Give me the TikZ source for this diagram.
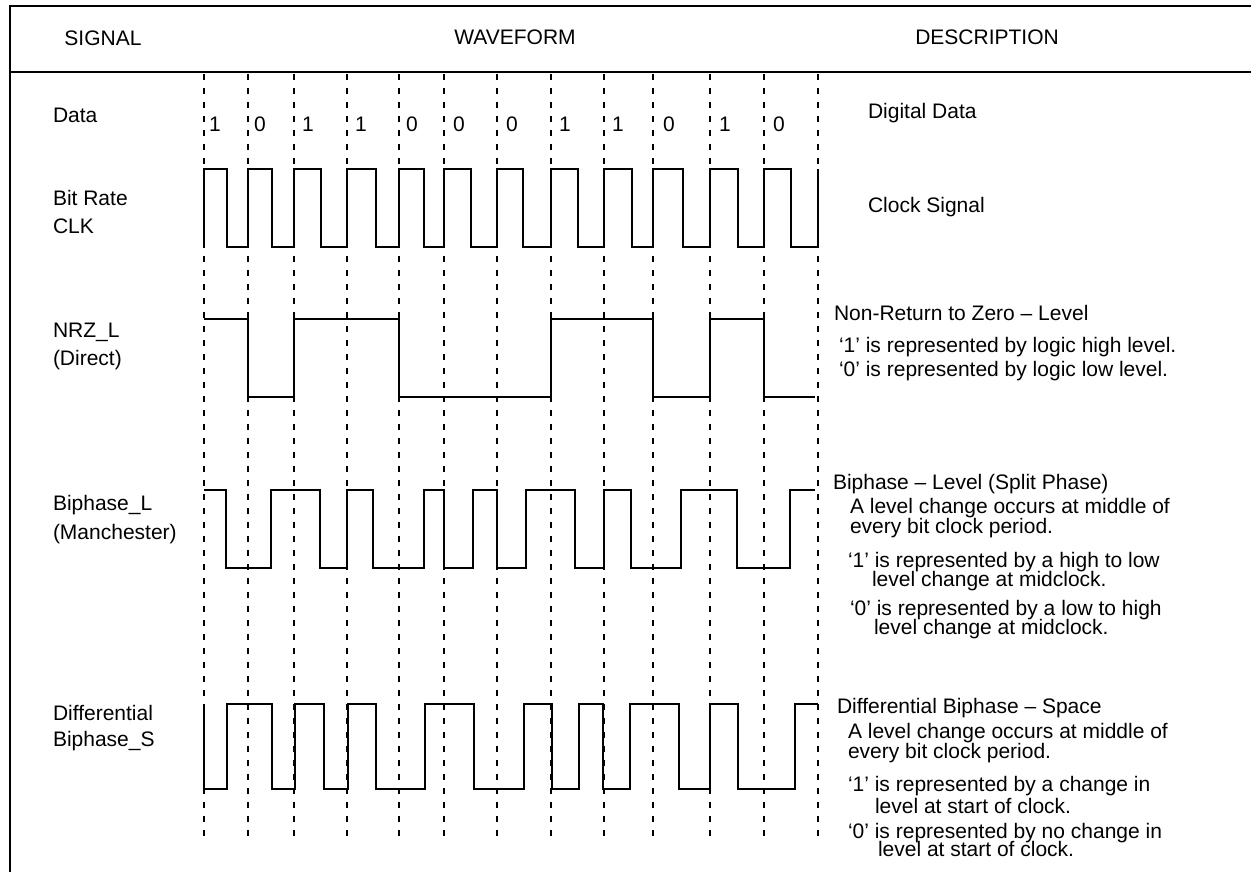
\documentclass[tikz,border=0pt]{standalone}
\usepackage{fontspec}
\setmainfont{Liberation Sans}
\begin{document}
\begin{tikzpicture}[x=0.5pt, y=-0.5pt, line width=1pt,
    txt/.style={anchor=base west, inner sep=0pt, font=\fontsize{10.5}{12}\selectfont},
    head/.style={anchor=base, inner sep=0pt, font=\fontsize{10.5}{12}\selectfont},
    grid/.style={dash pattern=on 3pt off 4pt, line width=0.9pt},
    wave/.style={line join=miter}]
        \useasboundingbox (0,0) rectangle (1251,872);

        % frame and header
        \draw (1251,6)--(10,6)--(10,872);
        \draw (10,72)--(1251,72);
        \node[head] (hsig) at (103,46) {SIGNAL};
        \node[head] (hwave) at (515,45) {WAVEFORM};
        \node[head] (hdesc) at (987,45) {DESCRIPTION};

        % bit cell boundaries
        \draw[grid] (204,74)--(204,836) (248,74)--(248,836) (294,74)--(294,836)
            (347,74)--(347,836) (399,74)--(399,836) (444,74)--(444,836)
            (497,74)--(497,836) (551,74)--(551,836) (604,74)--(604,836)
            (653,74)--(653,836) (710,74)--(710,836) (764,74)--(764,836)
            (818,74)--(818,836);

        % signal names
        \node[txt] (ldata) at (52,122) {Data};
        \node[txt] (lbit) at (52,205) {Bit Rate};
        \node[txt] (lclk) at (52,233) {CLK};
        \node[txt] (lnrz) at (52,337) {NRZ\_L};
        \node[txt] (ldir) at (52,365) {(Direct)};
        \node[txt] (lbph) at (52,510) {Biphase\_L};
        \node[txt] (lman) at (52,539) {(Manchester)};
        \node[txt] (ldif) at (52,720) {Differential};
        \node[txt] (lbps) at (52,746) {Biphase\_S};

        % data bits
        \node[txt] (d1) at (208,132) {1};
        \node[txt] (d2) at (253,132) {0};
        \node[txt] (d3) at (301,132) {1};
        \node[txt] (d4) at (354,132) {1};
        \node[txt] (d5) at (405,132) {0};
        \node[txt] (d6) at (452,132) {0};
        \node[txt] (d7) at (505,132) {0};
        \node[txt] (d8) at (558,132) {1};
        \node[txt] (d9) at (611,132) {1};
        \node[txt] (d10) at (662,132) {0};
        \node[txt] (d11) at (718,132) {1};
        \node[txt] (d12) at (772,132) {0};

        % bit rate clock
        \draw[wave] (204,247)--(204,169)--(227,169)--(227,247)--(248,247)--(248,169)
            --(272,169)--(272,247)--(294,247)--(294,169)--(321,169)--(321,247)
            --(347,247)--(347,169)--(376,169)--(376,247)--(399,247)--(399,169)
            --(424,169)--(424,247)--(444,247)--(444,169)--(471,169)--(471,247)
            --(497,247)--(497,169)--(523,169)--(523,247)--(551,247)--(551,169)
            --(578,169)--(578,247)--(604,247)--(604,169)--(632,169)--(632,247)
            --(653,247)--(653,169)--(683,169)--(683,247)--(710,247)--(710,169)
            --(738,169)--(738,247)--(764,247)--(764,169)--(791,169)--(791,247)
            --(818,247)--(818,169);

        % NRZ_L
        \draw[wave] (204,319)--(248,319)--(248,397)--(294,397)--(294,319)--(399,319)
            --(399,397)--(551,397)--(551,319)--(653,319)--(653,397)--(710,397)
            --(710,319)--(764,319)--(764,397)--(815,397);

        % Biphase_L
        \draw[wave] (204,490)--(226,490)--(226,568)--(271,568)--(271,490)--(320,490)
            --(320,568)--(347,568)--(347,490)--(373,490)--(373,568)--(424,568)
            --(424,490)--(444,490)--(444,568)--(473,568)--(473,490)--(497,490)
            --(497,568)--(526,568)--(526,490)--(575,490)--(575,568)--(604,568)
            --(604,490)--(631,490)--(631,568)--(681,568)--(681,490)--(737,490)
            --(737,568)--(790,568)--(790,490)--(815,490);

        % Differential Biphase_S
        \draw[wave] (204,704)--(204,789)--(227,789)--(227,704)--(272,704)--(272,789)
            --(295,789)--(295,704)--(324,704)--(324,789)--(348,789)--(348,704)
            --(376,704)--(376,789)--(425,789)--(425,704)--(474,704)--(474,789)
            --(524,789)--(524,704)--(552,704)--(552,789)--(579,789)--(579,704)
            --(603,704)--(603,789)--(630,789)--(630,704)--(679,704)--(679,789)
            --(710,789)--(710,704)--(738,704)--(738,789)--(795,789)--(795,704)
            --(818,704);

        % descriptions
        \node[txt] (tdata) at (867,119) {Digital Data};
        \node[txt] (tclk) at (867,212) {Clock Signal};

        \node[txt] (tnrz) at (833,320) {Non-Return to Zero – Level};
        \node[txt] (tnrza) at (838,352) {‘1’ is represented by logic high level.};
        \node[txt] (tnrzb) at (838,376) {‘0’ is represented by logic low level.};

        \node[txt] (tbph) at (832,489) {Biphase – Level (Split Phase)};
        \node[txt] (tbpha) at (849,513) {A level change occurs at middle of};
        \node[txt] (tbphb) at (849,533) {every bit clock period.};
        \node[txt] (tbphc) at (847,567) {‘1’ is represented by a high to low};
        \node[txt] (tbphd) at (871,586) {level change at midclock.};
        \node[txt] (tbphe) at (849,615) {‘0’ is represented by a low to high};
        \node[txt] (tbphf) at (873,634) {level change at midclock.};

        \node[txt] (tdif) at (836,713) {Differential Biphase – Space};
        \node[txt] (tdifa) at (847,738) {A level change occurs at middle of};
        \node[txt] (tdifb) at (847,758) {every bit clock period.};
        \node[txt] (tdifc) at (847,791) {‘1’ is represented by a change in};
        \node[txt] (tdifd) at (874,813) {level at start of clock.};
        \node[txt] (tdife) at (847,838) {‘0’ is represented by no change in};
        \node[txt] (tdiff) at (877,856) {level at start of clock.};
    \end{tikzpicture}
\end{document}
